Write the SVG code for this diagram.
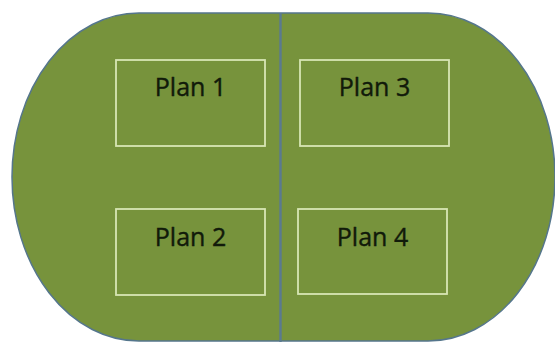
<svg xmlns="http://www.w3.org/2000/svg" width="555" height="342" viewBox="0 0 555 342">
  <style>
    .field { fill: #77933C; stroke: #55768C; stroke-width: 1.5; }
    .divider { stroke: #5A7A90; stroke-width: 2.4; fill: none; }
    .plan rect { fill: none; stroke: #D7E6B4; stroke-width: 1.8; }
    .plan text { font-family: "Open Sans", "Liberation Sans", sans-serif; font-size: 25px; fill: #111A0A; stroke: #111A0A; stroke-width: 0.4; text-anchor: middle; }
  </style>
  <rect width="555" height="342" fill="#FFFFFF"/>
  <g id="field">
    <rect class="field" x="12" y="13" width="543" height="328" rx="127" ry="164"/>
  </g>
  <g id="connectors">
    <line class="divider" x1="280.5" y1="13" x2="280.5" y2="342"/>
  </g>
  <g id="plan1" class="plan">
    <rect x="116" y="60" width="149" height="86"/>
    <text x="190.5" y="96">Plan 1</text>
  </g>
  <g id="plan2" class="plan">
    <rect x="116" y="209" width="149" height="86"/>
    <text x="190.5" y="246">Plan 2</text>
  </g>
  <g id="plan3" class="plan">
    <rect x="300" y="60" width="149" height="86"/>
    <text x="374.5" y="96">Plan 3</text>
  </g>
  <g id="plan4" class="plan">
    <rect x="298" y="209" width="149" height="85"/>
    <text x="372.5" y="246">Plan 4</text>
  </g>
</svg>
